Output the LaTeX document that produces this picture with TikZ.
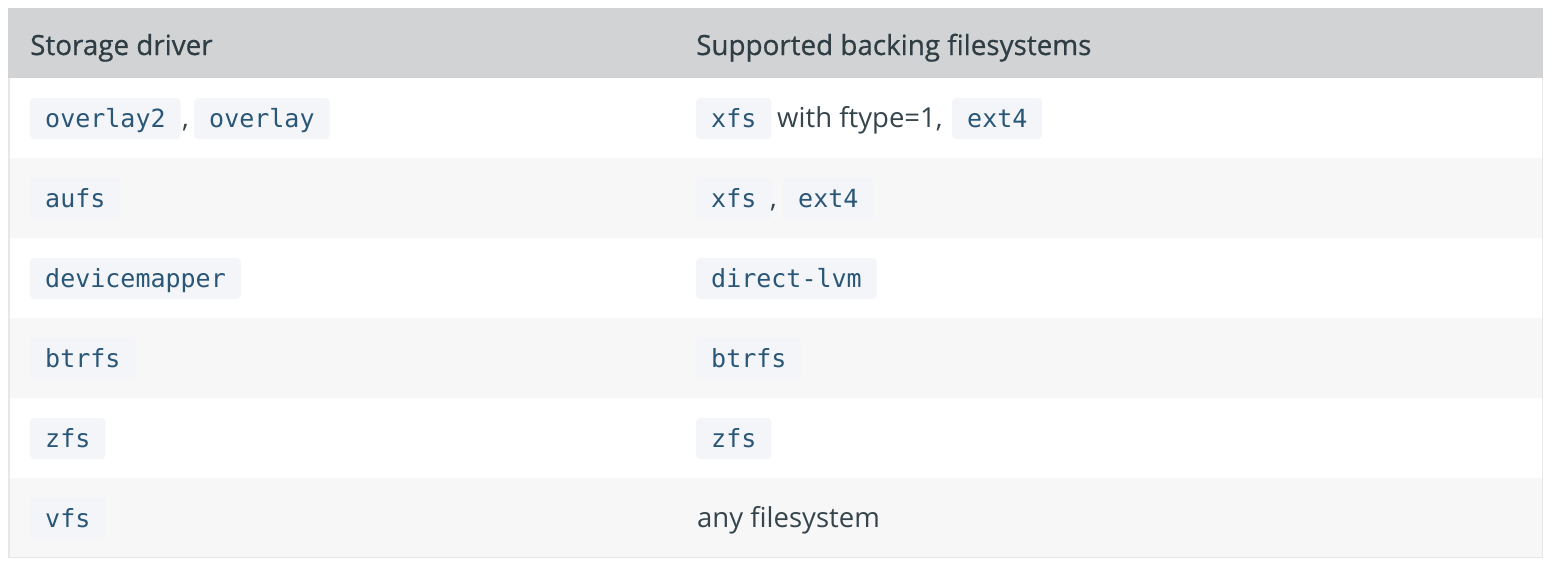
\documentclass[tikz,border=0pt]{standalone}
\usepackage{fontspec}
\setmainfont{Open Sans}
\newfontfamily\headfont{Open Sans}[FakeBold=0.7]
\newfontfamily\codefont{DejaVu Sans Mono}
\definecolor{headbg}{HTML}{D2D3D5}
\definecolor{stripe}{HTML}{F7F7F8}
\definecolor{codebg}{HTML}{F3F5F8}
\definecolor{codefg}{HTML}{2A5677}
\definecolor{txt}{HTML}{36444C}
\definecolor{headtxt}{HTML}{2F3D44}
\definecolor{border}{HTML}{E6E7E8}
\tikzset{
  code/.style={anchor=base west, fill=codebg, rounded corners=4pt, inner xsep=15pt, inner ysep=7.5pt,
    text height=22pt, text depth=4pt, text=codefg, font=\codefont\fontsize{25}{30}\selectfont},
  body/.style={anchor=base west, inner sep=0pt, text=txt, font=\fontsize{27.5}{33}\selectfont},
  head/.style={anchor=base west, inner sep=0pt, text=headtxt, font=\headfont\fontsize{27.8}{33}\selectfont}
}
\begin{document}
\begin{tikzpicture}[x=1pt,y=-1pt]
\useasboundingbox (0,0) rectangle (1558,570);
% backgrounds
\fill[headbg] (8,8) rectangle (1543,78);
\foreach \i in {1,3,5} {
  \fill[stripe] (8,{78+80*\i}) rectangle (1543,{158+80*\i});
}
\draw[border, line width=1.5pt] (8.75,78) -- (8.75,557.25) -- (1542.25,557.25) -- (1542.25,78);
% header
\node[head] (h1) at (30,55) {Storage driver};
\node[head] (h2) at (696,55) {Supported backing filesystems};
% row 0
\node[code] (r0a) at (30,127.5) {overlay2};
\node[body] (r0c) at (182,127.5) {,};
\node[code] (r0b) at (194,127.5) {overlay};
\node[code] (r0d) at (696,127.5) {xfs};
\node[body] (r0t) at (777,127.5) {with ftype=1,};
\node[code] (r0e) at (952,127.5) {ext4};
% row 1
\node[code] (r1a) at (30,207.5) {aufs};
\node[code] (r1b) at (696,207.5) {xfs};
\node[body] (r1c) at (770,207.5) {,};
\node[code] (r1d) at (783,207.5) {ext4};
% row 2
\node[code] (r2a) at (30,287.5) {devicemapper};
\node[code] (r2b) at (696,287.5) {direct-lvm};
% row 3
\node[code] (r3a) at (30,367.5) {btrfs};
\node[code] (r3b) at (696,367.5) {btrfs};
% row 4
\node[code] (r4a) at (30,447.5) {zfs};
\node[code] (r4b) at (696,447.5) {zfs};
% row 5
\node[code] (r5a) at (30,527) {vfs};
\node[body] (r5b) at (697,527) {any filesystem};
\end{tikzpicture}
\end{document}
